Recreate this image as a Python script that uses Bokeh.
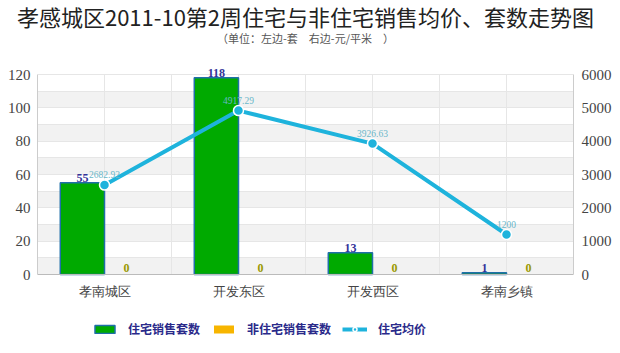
from bokeh.plotting import figure
from bokeh.models import (Range1d, LinearAxis, Title, Legend, LegendItem, ColumnDataSource,
                          SingleIntervalTicker, FixedTicker, LabelSet, Span)
from bokeh.transform import dodge
from bokeh.embed import file_html
from bokeh.resources import INLINE

# ---- data ----
categories = ["孝南城区", "开发东区", "开发西区", "孝南乡镇"]
res_counts = [55, 118, 13, 1]
nonres_counts = [0, 0, 0, 0]
avg_price = [2682.92, 4917.29, 3926.63, 1200]
price_labels = ["2682.92", "4917.29", "3926.63", "1200"]
left_max = 120
right_max = 6000

title_text = "孝感城区2011-10第2周住宅与非住宅销售均价、套数走势图"
subtitle_text = "（单位：左边-套　右边-元/平米　）"
legend_labels = ["住宅销售套数", "非住宅销售套数", "住宅均价"]

pos = [i + 0.5 for i in range(len(categories))]
src = ColumnDataSource(dict(
    x=pos, cat=categories, res=res_counts, nonres=nonres_counts,
    res_lbl=[str(v) for v in res_counts], nonres_lbl=[str(v) for v in nonres_counts],
    price=avg_price, price_lbl=price_labels,
))
half = [i * 0.5 for i in range(1, 2 * len(categories))]
band_ticks = list(range(0, left_max + 1, 10))
band_bottoms = band_ticks[0:-1:2]
band_tops = [b + 10 for b in band_bottoms]

CJK = "Noto Sans CJK SC"
SERIF = "Liberation Serif"

# layout (pixels): value span 200 px, blank headroom 30 px above it, 79 px below zero
# for the category names and the legend, which are drawn inside the frame.
SPAN_PX, TOP_PX, BOT_PX = 200, 30, 79
lo = -BOT_PX / SPAN_PX
hi = (SPAN_PX + TOP_PX) / SPAN_PX

p = figure(frame_width=536, frame_height=SPAN_PX + TOP_PX + BOT_PX,
           output_backend="svg", toolbar_location=None,
           x_range=Range1d(0, len(categories)), y_range=Range1d(left_max * lo, left_max * hi),
           min_border_left=37, min_border_right=47, min_border_top=0, min_border_bottom=0,
           background_fill_color="white", border_fill_color="white", outline_line_color=None)
p.extra_y_ranges = {"price": Range1d(right_max * lo, right_max * hi)}

# titles (first added sits closest to the plot)
p.add_layout(Title(text=subtitle_text, align="center", text_font=CJK, text_font_size="11px",
                   text_font_style="normal", text_color="#555555", standoff=-2), "above")
p.add_layout(Title(text=title_text, align="center", text_font=CJK, text_font_size="22px",
                   text_font_style="normal", text_color="#222222", standoff=-6), "above")

# background bands and grid lines
p.quad(left=0, right=len(categories), bottom=band_bottoms, top=band_tops,
       fill_color="#f2f2f2", line_color=None, level="underlay")
p.ygrid.ticker = FixedTicker(ticks=band_ticks)
p.ygrid.grid_line_color = "#e6e6e6"
p.ygrid.band_fill_color = None
p.xgrid.grid_line_color = None
p.segment(x0=half, y0=[0] * len(half), x1=half, y1=[left_max] * len(half),
          line_color="#e6e6e6", line_width=1, level="underlay")
p.add_layout(Span(location=0, dimension="width", line_color="#bbbbbb", line_width=1))

# axes
p.xaxis.visible = False
p.yaxis.ticker = SingleIntervalTicker(interval=20)
p.yaxis.bounds = (0, left_max)
p.yaxis.axis_line_color = "#cccccc"
p.yaxis.major_tick_line_color = None
p.yaxis.minor_tick_line_color = None
p.yaxis.major_tick_out = 0
p.yaxis.minor_tick_out = 0
p.yaxis.major_label_text_font = SERIF
p.yaxis.major_label_text_font_size = "15px"
p.yaxis.major_label_text_color = "#444444"
p.yaxis.major_label_standoff = 7

raxis = LinearAxis(y_range_name="price", ticker=SingleIntervalTicker(interval=1000),
                   bounds=(0, right_max))
raxis.axis_line_color = "#cccccc"
raxis.major_tick_line_color = None
raxis.minor_tick_line_color = None
raxis.major_tick_out = 0
raxis.minor_tick_out = 0
raxis.major_label_text_font = SERIF
raxis.major_label_text_font_size = "15px"
raxis.major_label_text_color = "#444444"
raxis.major_label_standoff = 8
p.add_layout(raxis, "right")

# category names under the zero line
p.add_layout(LabelSet(x="x", y=0, text="cat", source=src, y_offset=-17,
                      text_align="center", text_baseline="middle",
                      text_font=CJK, text_font_size="13px", text_color="#444444"))

bw = 0.33
r_res = p.vbar(x=dodge("x", -bw / 2, range=p.x_range), top="res", width=bw, source=src,
               fill_color="#00aa00", line_color="#1f6fa8", line_width=1.5)
r_non = p.vbar(x=dodge("x", bw / 2, range=p.x_range), top="nonres", width=bw, source=src,
               fill_color="#f7b500", line_color=None)

p.add_layout(LabelSet(x=dodge("x", -bw / 2, range=p.x_range), y="res", text="res_lbl", source=src,
                      text_align="center", text_baseline="bottom", y_offset=1,
                      text_font=SERIF, text_font_size="12px", text_color="#333399",
                      text_font_style="bold"))
p.add_layout(LabelSet(x=dodge("x", bw / 2, range=p.x_range), y="nonres", text="nonres_lbl", source=src,
                      text_align="center", text_baseline="bottom", y_offset=3,
                      text_font=SERIF, text_font_size="12px", text_color="#999900",
                      text_font_style="bold"))

r_line = p.line(x="x", y="price", source=src, y_range_name="price",
                line_color="#1eb3dc", line_width=4)
r_pts = p.scatter(x="x", y="price", source=src, y_range_name="price", size=10,
                  fill_color="#1eb3dc", line_color="white", line_width=1.5)
p.add_layout(LabelSet(x="x", y="price", text="price_lbl", source=src, y_range_name="price",
                      text_align="center", text_baseline="bottom", y_offset=7,
                      text_font="DejaVu Sans Mono", text_font_size="9.5px", text_color="#6ab7c9"))

legend = Legend(items=[
    LegendItem(label=legend_labels[0], renderers=[r_res]),
    LegendItem(label=legend_labels[1], renderers=[r_non]),
    LegendItem(label=legend_labels[2], renderers=[r_line, r_pts]),
], orientation="horizontal", location=(55, 16),
    label_text_font=CJK, label_text_font_size="12px", label_text_color="#2a2a8a",
    label_text_font_style="bold",
    glyph_width=25, glyph_height=10, spacing=11, label_standoff=11,
    border_line_color=None, background_fill_alpha=0, margin=0, padding=2)
p.add_layout(legend)

open("out.html", "w").write(file_html(p, INLINE))
